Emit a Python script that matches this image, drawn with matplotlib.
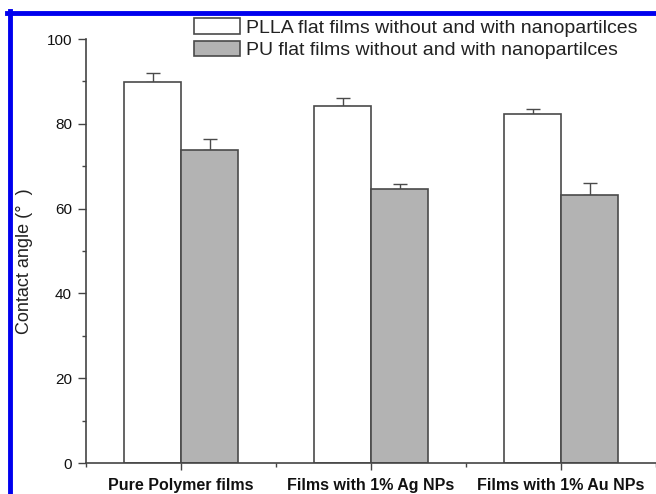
import numpy as np
import matplotlib
matplotlib.use('Agg')
import matplotlib.pyplot as plt
from matplotlib.lines import Line2D
from matplotlib.ticker import MultipleLocator

# data
groups = ['Pure Polymer films', 'Films with 1% Ag NPs', 'Films with 1% Au NPs']
plla = [89.8, 84.2, 82.2]
plla_err = [2.2, 1.8, 1.3]
pu = [73.8, 64.7, 63.2]
pu_err = [2.7, 1.2, 2.8]
labels = ['PLLA flat films without and with nanopartilces',
          'PU flat films without and with nanopartilces']

plt.rcParams['font.family'] = ['Liberation Sans', 'DejaVu Sans']

W, H = 656, 494
fig = plt.figure(figsize=(W / 100, H / 100), dpi=100)
ax = fig.add_axes([86 / W, 1 - 463 / H, 570 / W, 424 / H])

x = np.arange(len(groups))
bw = 0.3
edge = '#4a4a4a'
ax.bar(x - bw / 2, plla, bw, color='white', edgecolor=edge, linewidth=1.2,
       label=labels[0], zorder=2)
ax.bar(x + bw / 2, pu, bw, color='#b3b3b3', edgecolor=edge, linewidth=1.2,
       label=labels[1], zorder=2)

# one-sided error bars
for xs, ys, es in [(x - bw / 2, plla, plla_err), (x + bw / 2, pu, pu_err)]:
    ax.errorbar(xs, ys, yerr=[np.zeros(len(es)), es], fmt='none',
                ecolor=edge, elinewidth=1.0, capsize=5, capthick=1.0, zorder=1)

ax.set_xlim(-0.5, 2.5)
ax.set_ylim(0, 100)
ax.set_xticks(x)
ax.set_xticklabels(groups, fontsize=11.5, fontweight='bold', color='#111111')
ax.xaxis.set_minor_locator(MultipleLocator(1, offset=0.5))
ax.yaxis.set_major_locator(MultipleLocator(20))
ax.yaxis.set_minor_locator(MultipleLocator(10))
ax.tick_params(axis='y', which='major', length=6, width=1.0, pad=4,
               labelsize=11, colors='#444444', labelcolor='#111111')
ax.tick_params(axis='y', which='minor', length=3, width=1.0, colors='#444444')
ax.tick_params(axis='x', which='major', length=5, width=1.0, pad=6,
               colors='#444444', labelcolor='#111111')
ax.tick_params(axis='x', which='minor', length=3, width=1.0, colors='#444444')

for s in ['top', 'right']:
    ax.spines[s].set_visible(False)
for s in ['left', 'bottom']:
    ax.spines[s].set_color('#444444')
    ax.spines[s].set_linewidth(1.2)

ax.set_ylabel('Contact angle (°  )', fontsize=13, color='#222222')
ax.yaxis.set_label_coords(-0.093, 0.476)

fig.legend(loc='upper left', bbox_to_anchor=(194 / W, 1 - 18 / H),
           frameon=False, fontsize=14, handlelength=2.37, handleheight=0.88,
           handletextpad=0.28, labelspacing=0.2, borderpad=0, borderaxespad=0,
           labelcolor='#222222')

# blue frame (top and left edges visible)
fig.add_artist(Line2D([7 / W, 1], [1 - 13.3 / H] * 2, color='#0000ee',
                      linewidth=3.5, transform=fig.transFigure))
fig.add_artist(Line2D([9.5 / W] * 2, [0, 1 - 11 / H], color='#0000ee',
                      linewidth=3.5, transform=fig.transFigure))

fig.savefig('out.png', dpi=100)
